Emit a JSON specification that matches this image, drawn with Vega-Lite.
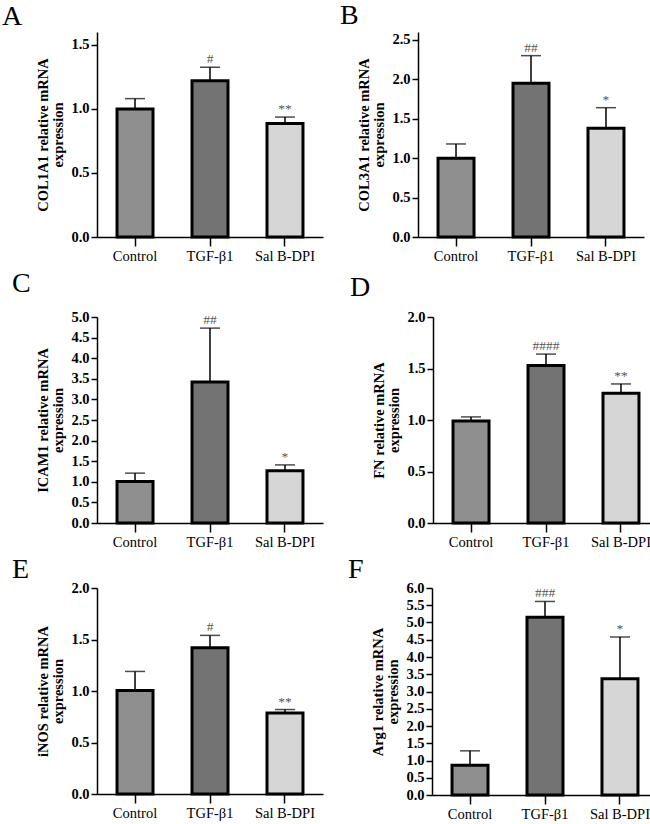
{
  "$schema": "https://vega.github.io/schema/vega-lite/v6.json",
  "padding": {"left": 2, "top": 1, "right": 0, "bottom": 0},
  "datasets": {
    "rows": [
      {"panel": "A", "group": "Control", "mean": 1.0, "upper": 1.08, "sig": ""},
      {"panel": "A", "group": "TGF-β1", "mean": 1.22, "upper": 1.325, "sig": "#"},
      {"panel": "A", "group": "Sal B-DPI", "mean": 0.885, "upper": 0.936, "sig": "**"},
      {"panel": "B", "group": "Control", "mean": 1.0, "upper": 1.18, "sig": ""},
      {"panel": "B", "group": "TGF-β1", "mean": 1.95, "upper": 2.3, "sig": "##"},
      {"panel": "B", "group": "Sal B-DPI", "mean": 1.38, "upper": 1.64, "sig": "*"},
      {"panel": "C", "group": "Control", "mean": 1.01, "upper": 1.21, "sig": ""},
      {"panel": "C", "group": "TGF-β1", "mean": 3.42, "upper": 4.73, "sig": "##"},
      {"panel": "C", "group": "Sal B-DPI", "mean": 1.27, "upper": 1.41, "sig": "*"},
      {"panel": "D", "group": "Control", "mean": 0.99, "upper": 1.03, "sig": ""},
      {"panel": "D", "group": "TGF-β1", "mean": 1.53, "upper": 1.64, "sig": "####"},
      {"panel": "D", "group": "Sal B-DPI", "mean": 1.26, "upper": 1.35, "sig": "**"},
      {"panel": "E", "group": "Control", "mean": 1.005, "upper": 1.19, "sig": ""},
      {"panel": "E", "group": "TGF-β1", "mean": 1.42, "upper": 1.54, "sig": "#"},
      {"panel": "E", "group": "Sal B-DPI", "mean": 0.787, "upper": 0.82, "sig": "**"},
      {"panel": "F", "group": "Control", "mean": 0.86, "upper": 1.28, "sig": ""},
      {"panel": "F", "group": "TGF-β1", "mean": 5.15, "upper": 5.61, "sig": "###"},
      {"panel": "F", "group": "Sal B-DPI", "mean": 3.37, "upper": 4.58, "sig": "*"}
    ]
  },
  "data": {"name": "rows"},
  "align": "none",
  "spacing": 7,
  "vconcat": [
    {
      "hconcat": [
        {
          "width": 226, "height": 205,
          "title": {"text": "A", "dx": -95, "offset": 1},
          "transform": [{"filter": "datum.panel == 'A'"}],
          "encoding": {"x": {"field": "group", "type": "nominal", "sort": ["Control", "TGF-β1", "Sal B-DPI"], "title": null, "scale": {"paddingInner": 0.52, "paddingOuter": 0.267}}},
          "layer": [
            {"mark": {"type": "rule", "strokeWidth": 1.5, "color": "black"}, "encoding": {"y": {"field": "mean", "type": "quantitative", "scale": {"domain": [0, 1.5]}, "axis": {"values": [0, 0.5, 1, 1.5], "tickCount": 20, "format": ".1f", "labelOverlap": false, "title": ["COL1A1 relative mRNA", "expression"]}}, "y2": {"field": "upper"}}},
            {"mark": {"type": "tick", "size": 20, "thickness": 1.5, "color": "black"}, "encoding": {"y": {"field": "upper", "type": "quantitative", "axis": {"values": [0, 0.5, 1, 1.5], "tickCount": 20, "format": ".1f", "labelOverlap": false, "title": ["COL1A1 relative mRNA", "expression"]}}}},
            {"mark": {"type": "bar", "stroke": "black", "strokeWidth": 3}, "encoding": {"y": {"field": "mean", "type": "quantitative", "stack": null, "axis": {"values": [0, 0.5, 1, 1.5], "tickCount": 20, "format": ".1f", "labelOverlap": false, "title": ["COL1A1 relative mRNA", "expression"]}}, "fill": {"field": "group", "type": "nominal", "scale": {"domain": ["Control", "TGF-β1", "Sal B-DPI"], "range": ["#8f8f8f", "#737373", "#d6d6d6"]}, "legend": null}}},
            {"mark": {"type": "text", "baseline": "bottom", "dy": -1, "font": "Liberation Serif", "fontSize": 13.5, "color": "#555555"}, "encoding": {"y": {"field": "upper", "type": "quantitative", "axis": {"values": [0, 0.5, 1, 1.5], "tickCount": 20, "format": ".1f", "labelOverlap": false, "title": ["COL1A1 relative mRNA", "expression"]}}, "text": {"field": "sig"}}}
          ]
        },
        {
          "width": 226, "height": 205,
          "title": {"text": "B", "dx": -78, "offset": 2},
          "transform": [{"filter": "datum.panel == 'B'"}],
          "encoding": {"x": {"field": "group", "type": "nominal", "sort": ["Control", "TGF-β1", "Sal B-DPI"], "title": null, "scale": {"paddingInner": 0.52, "paddingOuter": 0.267}}},
          "layer": [
            {"mark": {"type": "rule", "strokeWidth": 1.5, "color": "black"}, "encoding": {"y": {"field": "mean", "type": "quantitative", "scale": {"domain": [0, 2.5]}, "axis": {"values": [0, 0.5, 1, 1.5, 2, 2.5], "tickCount": 20, "format": ".1f", "labelOverlap": false, "title": ["COL3A1 relative mRNA", "expression"]}}, "y2": {"field": "upper"}}},
            {"mark": {"type": "tick", "size": 20, "thickness": 1.5, "color": "black"}, "encoding": {"y": {"field": "upper", "type": "quantitative", "axis": {"values": [0, 0.5, 1, 1.5, 2, 2.5], "tickCount": 20, "format": ".1f", "labelOverlap": false, "title": ["COL3A1 relative mRNA", "expression"]}}}},
            {"mark": {"type": "bar", "stroke": "black", "strokeWidth": 3}, "encoding": {"y": {"field": "mean", "type": "quantitative", "stack": null, "axis": {"values": [0, 0.5, 1, 1.5, 2, 2.5], "tickCount": 20, "format": ".1f", "labelOverlap": false, "title": ["COL3A1 relative mRNA", "expression"]}}, "fill": {"field": "group", "type": "nominal", "scale": {"domain": ["Control", "TGF-β1", "Sal B-DPI"], "range": ["#8f8f8f", "#737373", "#d6d6d6"]}, "legend": null}}},
            {"mark": {"type": "text", "baseline": "bottom", "dy": -1, "font": "Liberation Serif", "fontSize": 13.5, "color": "#555555"}, "encoding": {"y": {"field": "upper", "type": "quantitative", "axis": {"values": [0, 0.5, 1, 1.5, 2, 2.5], "tickCount": 20, "format": ".1f", "labelOverlap": false, "title": ["COL3A1 relative mRNA", "expression"]}}, "text": {"field": "sig"}}}
          ]
        }
      ],
      "spacing": 17
    },
    {
      "spacing": 6,
      "align": "none",
      "vconcat": [
        {
          "hconcat": [
            {
              "width": 226, "height": 206,
              "title": {"text": "C", "dx": -85, "offset": 11},
              "transform": [{"filter": "datum.panel == 'C'"}],
              "encoding": {"x": {"field": "group", "type": "nominal", "sort": ["Control", "TGF-β1", "Sal B-DPI"], "title": null, "scale": {"paddingInner": 0.52, "paddingOuter": 0.267}}},
              "layer": [
                {"mark": {"type": "rule", "strokeWidth": 1.5, "color": "black"}, "encoding": {"y": {"field": "mean", "type": "quantitative", "scale": {"domain": [0, 5]}, "axis": {"values": [0, 0.5, 1, 1.5, 2, 2.5, 3, 3.5, 4, 4.5, 5], "tickCount": 20, "format": ".1f", "labelOverlap": false, "title": ["ICAM1 relative mRNA", "expression"]}}, "y2": {"field": "upper"}}},
                {"mark": {"type": "tick", "size": 20, "thickness": 1.5, "color": "black"}, "encoding": {"y": {"field": "upper", "type": "quantitative", "axis": {"values": [0, 0.5, 1, 1.5, 2, 2.5, 3, 3.5, 4, 4.5, 5], "tickCount": 20, "format": ".1f", "labelOverlap": false, "title": ["ICAM1 relative mRNA", "expression"]}}}},
                {"mark": {"type": "bar", "stroke": "black", "strokeWidth": 3}, "encoding": {"y": {"field": "mean", "type": "quantitative", "stack": null, "axis": {"values": [0, 0.5, 1, 1.5, 2, 2.5, 3, 3.5, 4, 4.5, 5], "tickCount": 20, "format": ".1f", "labelOverlap": false, "title": ["ICAM1 relative mRNA", "expression"]}}, "fill": {"field": "group", "type": "nominal", "scale": {"domain": ["Control", "TGF-β1", "Sal B-DPI"], "range": ["#8f8f8f", "#737373", "#d6d6d6"]}, "legend": null}}},
                {"mark": {"type": "text", "baseline": "bottom", "dy": -1, "font": "Liberation Serif", "fontSize": 13.5, "color": "#555555"}, "encoding": {"y": {"field": "upper", "type": "quantitative", "axis": {"values": [0, 0.5, 1, 1.5, 2, 2.5, 3, 3.5, 4, 4.5, 5], "tickCount": 20, "format": ".1f", "labelOverlap": false, "title": ["ICAM1 relative mRNA", "expression"]}}, "text": {"field": "sig"}}}
              ]
            },
            {
              "width": 226, "height": 206,
              "title": {"text": "D", "dx": -83, "offset": 7},
              "transform": [{"filter": "datum.panel == 'D'"}],
              "encoding": {"x": {"field": "group", "type": "nominal", "sort": ["Control", "TGF-β1", "Sal B-DPI"], "title": null, "scale": {"paddingInner": 0.52, "paddingOuter": 0.267}}},
              "layer": [
                {"mark": {"type": "rule", "strokeWidth": 1.5, "color": "black"}, "encoding": {"y": {"field": "mean", "type": "quantitative", "scale": {"domain": [0, 2]}, "axis": {"values": [0, 0.5, 1, 1.5, 2], "tickCount": 20, "format": ".1f", "labelOverlap": false, "title": ["FN relative mRNA", "expression"]}}, "y2": {"field": "upper"}}},
                {"mark": {"type": "tick", "size": 20, "thickness": 1.5, "color": "black"}, "encoding": {"y": {"field": "upper", "type": "quantitative", "axis": {"values": [0, 0.5, 1, 1.5, 2], "tickCount": 20, "format": ".1f", "labelOverlap": false, "title": ["FN relative mRNA", "expression"]}}}},
                {"mark": {"type": "bar", "stroke": "black", "strokeWidth": 3}, "encoding": {"y": {"field": "mean", "type": "quantitative", "stack": null, "axis": {"values": [0, 0.5, 1, 1.5, 2], "tickCount": 20, "format": ".1f", "labelOverlap": false, "title": ["FN relative mRNA", "expression"]}}, "fill": {"field": "group", "type": "nominal", "scale": {"domain": ["Control", "TGF-β1", "Sal B-DPI"], "range": ["#8f8f8f", "#737373", "#d6d6d6"]}, "legend": null}}},
                {"mark": {"type": "text", "baseline": "bottom", "dy": -1, "font": "Liberation Serif", "fontSize": 13.5, "color": "#555555"}, "encoding": {"y": {"field": "upper", "type": "quantitative", "axis": {"values": [0, 0.5, 1, 1.5, 2], "tickCount": 20, "format": ".1f", "labelOverlap": false, "title": ["FN relative mRNA", "expression"]}}, "text": {"field": "sig"}}}
              ]
            }
          ],
          "spacing": 27
        },
        {
          "hconcat": [
            {
              "width": 226, "height": 206,
              "title": {"text": "E", "dx": -85, "offset": -3.5},
              "transform": [{"filter": "datum.panel == 'E'"}],
              "encoding": {"x": {"field": "group", "type": "nominal", "sort": ["Control", "TGF-β1", "Sal B-DPI"], "title": null, "scale": {"paddingInner": 0.52, "paddingOuter": 0.267}}},
              "layer": [
                {"mark": {"type": "rule", "strokeWidth": 1.5, "color": "black"}, "encoding": {"y": {"field": "mean", "type": "quantitative", "scale": {"domain": [0, 2]}, "axis": {"values": [0, 0.5, 1, 1.5, 2], "tickCount": 20, "format": ".1f", "labelOverlap": false, "title": ["iNOS relative mRNA", "expression"]}}, "y2": {"field": "upper"}}},
                {"mark": {"type": "tick", "size": 20, "thickness": 1.5, "color": "black"}, "encoding": {"y": {"field": "upper", "type": "quantitative", "axis": {"values": [0, 0.5, 1, 1.5, 2], "tickCount": 20, "format": ".1f", "labelOverlap": false, "title": ["iNOS relative mRNA", "expression"]}}}},
                {"mark": {"type": "bar", "stroke": "black", "strokeWidth": 3}, "encoding": {"y": {"field": "mean", "type": "quantitative", "stack": null, "axis": {"values": [0, 0.5, 1, 1.5, 2], "tickCount": 20, "format": ".1f", "labelOverlap": false, "title": ["iNOS relative mRNA", "expression"]}}, "fill": {"field": "group", "type": "nominal", "scale": {"domain": ["Control", "TGF-β1", "Sal B-DPI"], "range": ["#8f8f8f", "#737373", "#d6d6d6"]}, "legend": null}}},
                {"mark": {"type": "text", "baseline": "bottom", "dy": -1, "font": "Liberation Serif", "fontSize": 13.5, "color": "#555555"}, "encoding": {"y": {"field": "upper", "type": "quantitative", "axis": {"values": [0, 0.5, 1, 1.5, 2], "tickCount": 20, "format": ".1f", "labelOverlap": false, "title": ["iNOS relative mRNA", "expression"]}}, "text": {"field": "sig"}}}
              ]
            },
            {
              "width": 226, "height": 207,
              "title": {"text": "F", "dx": -84, "offset": -3.5},
              "transform": [{"filter": "datum.panel == 'F'"}],
              "encoding": {"x": {"field": "group", "type": "nominal", "sort": ["Control", "TGF-β1", "Sal B-DPI"], "title": null, "scale": {"paddingInner": 0.52, "paddingOuter": 0.267}}},
              "layer": [
                {"mark": {"type": "rule", "strokeWidth": 1.5, "color": "black"}, "encoding": {"y": {"field": "mean", "type": "quantitative", "scale": {"domain": [0, 6]}, "axis": {"values": [0, 0.5, 1, 1.5, 2, 2.5, 3, 3.5, 4, 4.5, 5, 5.5, 6], "tickCount": 20, "format": ".1f", "labelOverlap": false, "title": ["Arg1 relative mRNA", "expression"]}}, "y2": {"field": "upper"}}},
                {"mark": {"type": "tick", "size": 20, "thickness": 1.5, "color": "black"}, "encoding": {"y": {"field": "upper", "type": "quantitative", "axis": {"values": [0, 0.5, 1, 1.5, 2, 2.5, 3, 3.5, 4, 4.5, 5, 5.5, 6], "tickCount": 20, "format": ".1f", "labelOverlap": false, "title": ["Arg1 relative mRNA", "expression"]}}}},
                {"mark": {"type": "bar", "stroke": "black", "strokeWidth": 3}, "encoding": {"y": {"field": "mean", "type": "quantitative", "stack": null, "axis": {"values": [0, 0.5, 1, 1.5, 2, 2.5, 3, 3.5, 4, 4.5, 5, 5.5, 6], "tickCount": 20, "format": ".1f", "labelOverlap": false, "title": ["Arg1 relative mRNA", "expression"]}}, "fill": {"field": "group", "type": "nominal", "scale": {"domain": ["Control", "TGF-β1", "Sal B-DPI"], "range": ["#8f8f8f", "#737373", "#d6d6d6"]}, "legend": null}}},
                {"mark": {"type": "text", "baseline": "bottom", "dy": -1, "font": "Liberation Serif", "fontSize": 13.5, "color": "#555555"}, "encoding": {"y": {"field": "upper", "type": "quantitative", "axis": {"values": [0, 0.5, 1, 1.5, 2, 2.5, 3, 3.5, 4, 4.5, 5, 5.5, 6], "tickCount": 20, "format": ".1f", "labelOverlap": false, "title": ["Arg1 relative mRNA", "expression"]}}, "text": {"field": "sig"}}}
              ]
            }
          ],
          "spacing": 25
        }
      ]
    }
  ],
  "resolve": {"scale": {"x": "independent", "y": "independent", "fill": "independent"}},
  "config": {
    "view": {"stroke": null},
    "font": "Liberation Serif",
    "axis": {"grid": false, "domainColor": "black", "tickColor": "black", "labelColor": "black", "titleColor": "black", "labelFont": "Liberation Serif", "titleFont": "Liberation Serif", "domainWidth": 1.5, "tickWidth": 1.5, "labelOverlap": false},
    "axisY": {"labelFontWeight": "bold", "labelFontSize": 14.5, "titleFontSize": 14.5, "titleFontWeight": "bold", "tickSize": 6, "labelPadding": 2, "titlePadding": 5, "titleLineHeight": 15},
    "axisX": {"labelFontSize": 14.5, "tickSize": 9, "labelPadding": 3, "labelAngle": 0},
    "title": {"font": "Liberation Serif", "fontSize": 28, "fontWeight": "normal", "anchor": "start", "frame": "group", "color": "black"}
  }
}
